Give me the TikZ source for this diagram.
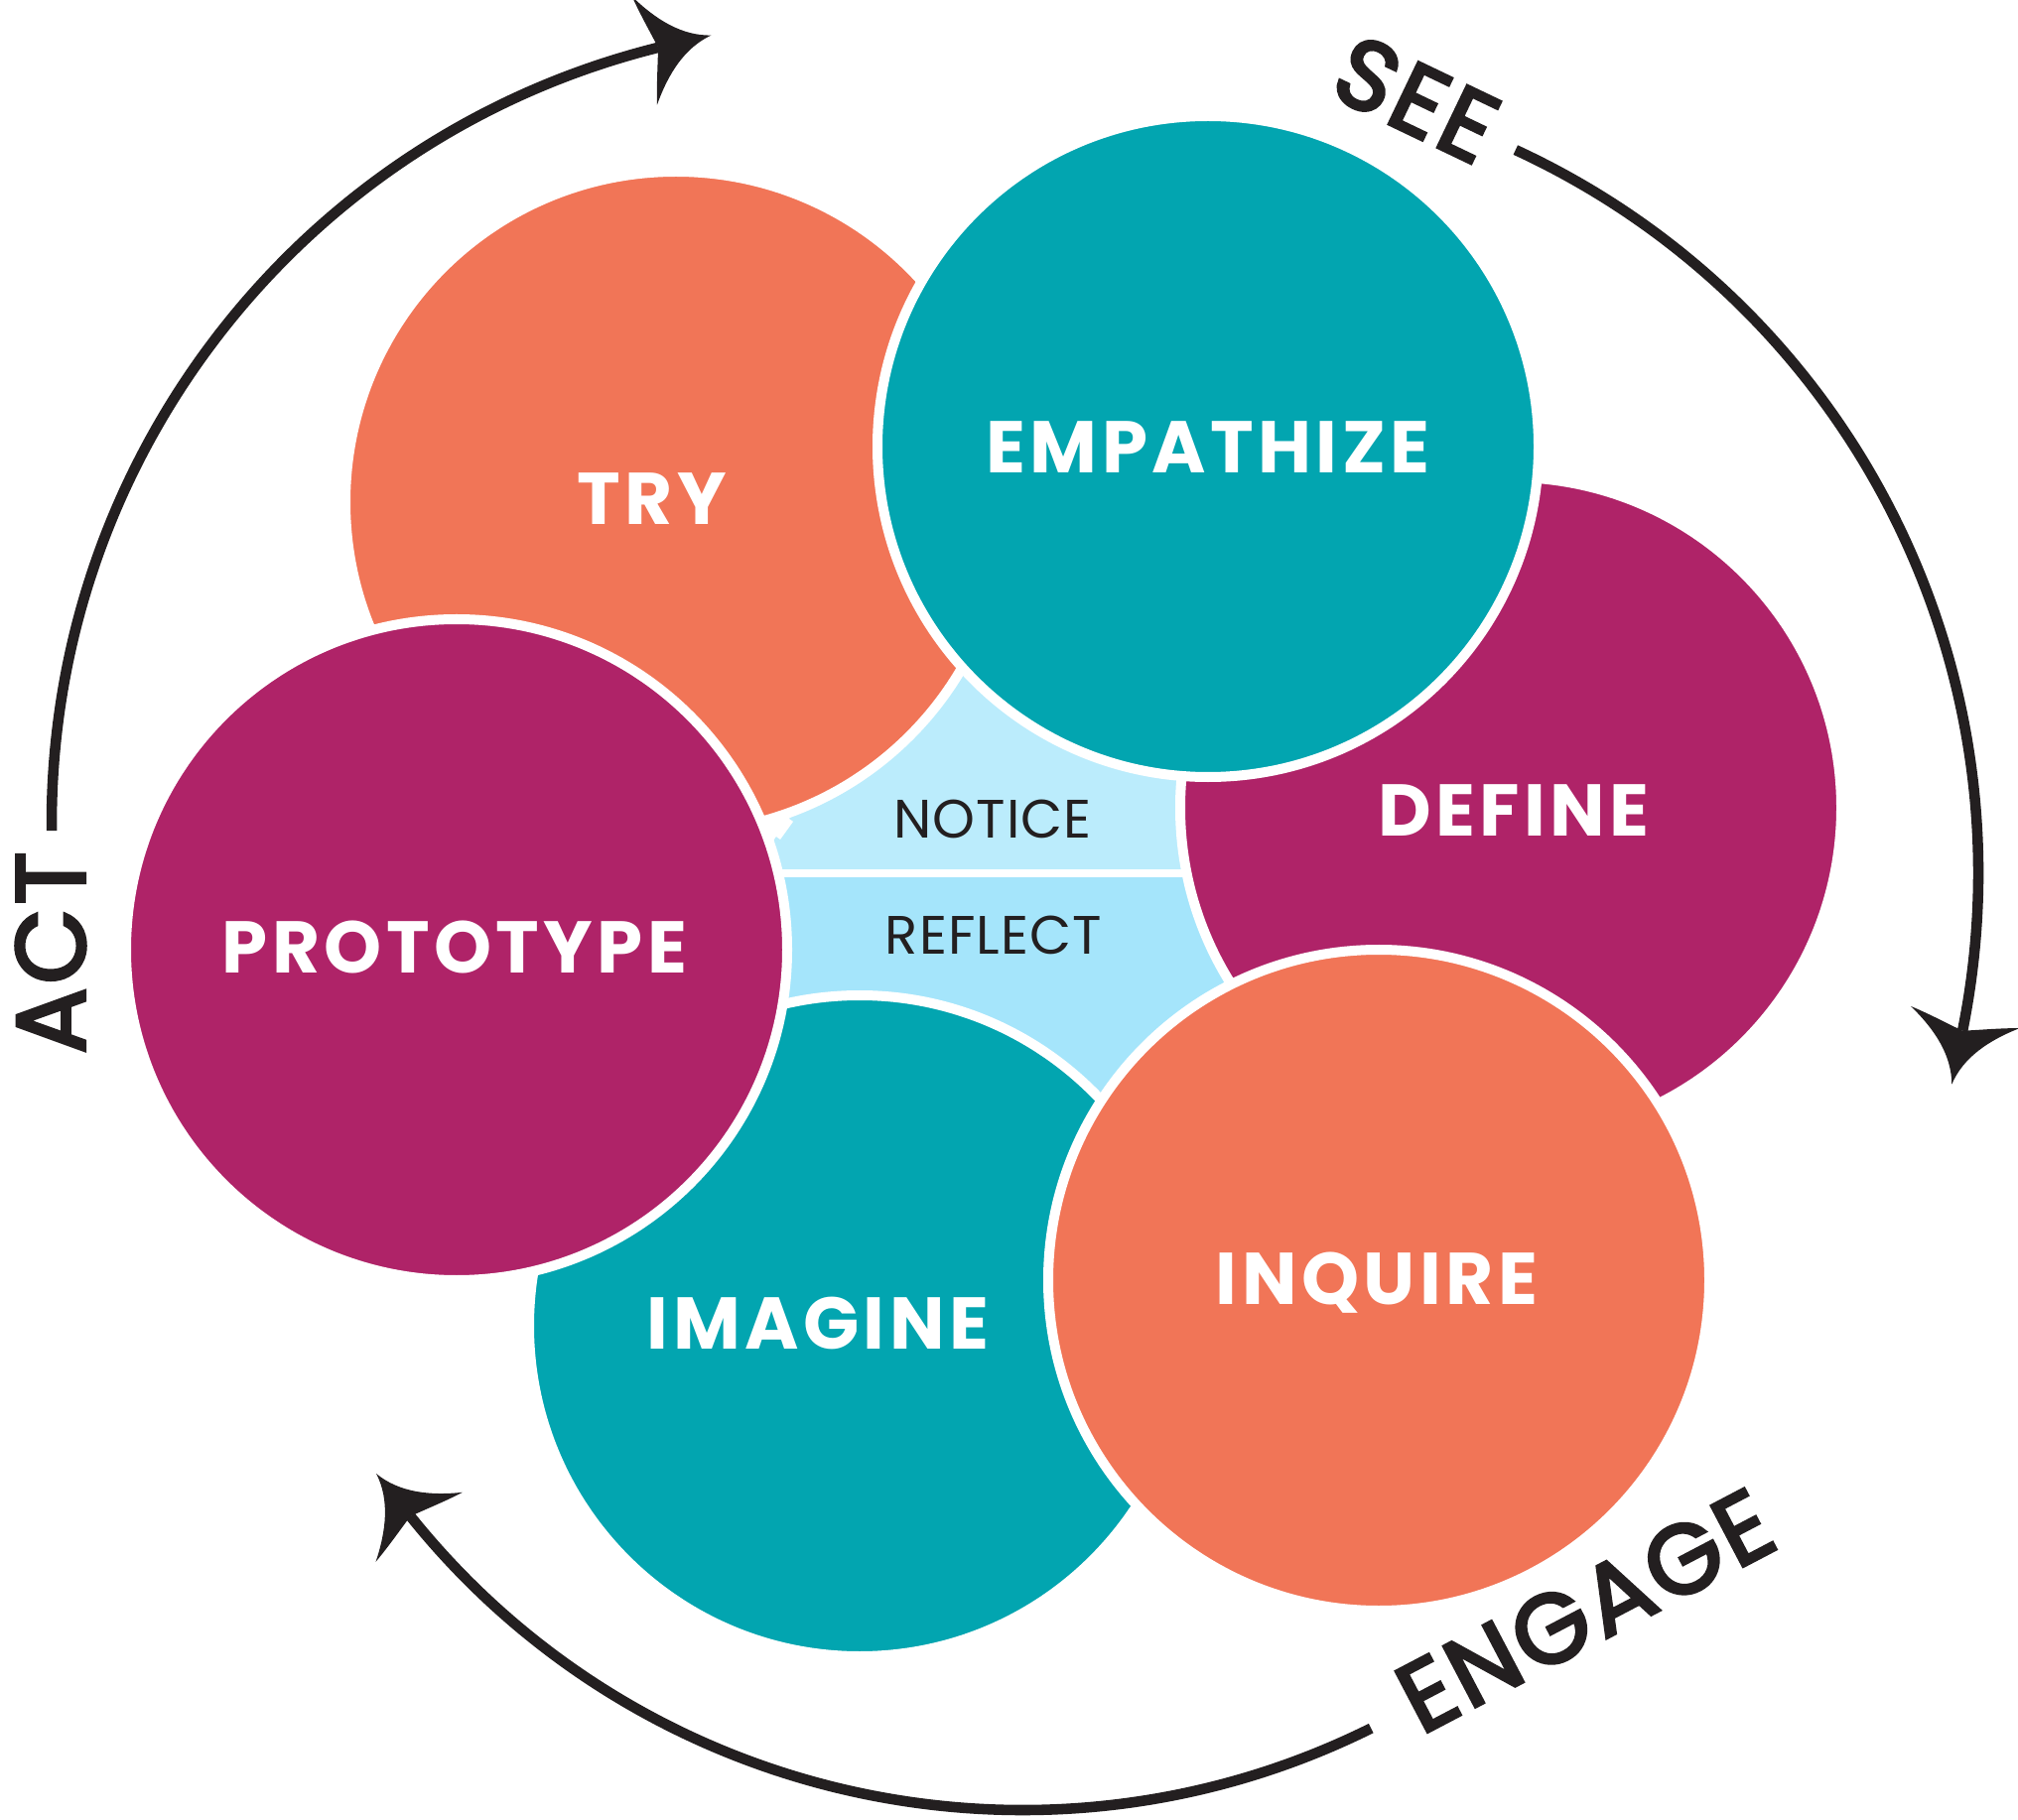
\documentclass[tikz,border=0pt]{standalone}
\usepackage{fontspec}
\setmainfont{Poppins}
\newfontfamily\stagefont{Poppins}[LetterSpace=6]
\newfontfamily\loopfont{Poppins}[FakeBold=3.5,LetterSpace=4]
\newfontfamily\corefont{Poppins}[LetterSpace=2]
\definecolor{coral}{HTML}{F17557}
\definecolor{lagoon}{HTML}{02A5B0}
\definecolor{berry}{HTML}{AF2368}
\definecolor{skytop}{HTML}{BBECFC}
\definecolor{skylow}{HTML}{A5E5FB}
\definecolor{ink}{HTML}{231F20}
\tikzset{
  pics/barb/.style={code={
    \fill[ink] (55,0) .. controls (26,-6) and (4,-28) .. (-14,-56)
      .. controls (-10,-36) and (-4,-16) .. (0,0)
      .. controls (-4,16) and (-10,36) .. (-14,56)
      .. controls (4,28) and (26,6) .. (55,0) -- cycle;
  }}
}
\begin{document}
\begin{tikzpicture}[x=0.01cm,y=-0.01cm,
    disc/.style={draw=white,line width=1mm},
    loop/.style={draw=ink,line width=3pt},
    stagename/.style={anchor=base,inner sep=0pt,text=white,
      font=\stagefont\bfseries\fontsize{21}{21}\selectfont},
    corename/.style={anchor=base,inner sep=0pt,text=ink,
      font=\corefont\fontsize{15.5}{15.5}\selectfont},
    loopname/.style={inner sep=0pt,text=ink,
      font=\loopfont\fontsize{28}{28}\selectfont}]
  \useasboundingbox (0,0) rectangle (2033,1834);

  % circle centres
  \coordinate (tryC) at (681,506);
  \coordinate (empC) at (1217,450);
  \coordinate (defC) at (1522,814);
  \coordinate (inqC) at (1389,1290);
  \coordinate (imaC) at (866,1336);
  \coordinate (proC) at (460,957);

  % centre: notice / reflect
  \fill[skytop] (795,825) -- (850,750) -- (960,640) -- (1150,700)
    -- (1195,790) -- (1205,880) -- (770,880) -- (772,858) -- (782,843)
    -- cycle;
  \fill[skylow] (770,880) -- (1205,880) -- (1243,990) -- (1200,1060)
    -- (1110,1105) -- (900,1040) -- (790,1010) -- cycle;
  \draw[white,line width=1mm] (795,825) -- (782,843);
  \draw[white,line width=2pt] (770,880) -- (1210,880);

  % lower circles
  \path[disc,fill=coral] (tryC) circle[radius=333];
  \path[disc,fill=berry] (defC) circle[radius=333];
  \path[disc,fill=lagoon] (imaC) circle[radius=333];
  % upper circles
  \path[disc,fill=lagoon] (empC) circle[radius=333];
  \path[disc,fill=coral] (inqC) circle[radius=333];
  \path[disc,fill=berry] (proC) circle[radius=333];

  % stage names
  \node[stagename] (tryL) at (657,529) {TRY};
  \node[stagename] (empL) at (1217,477) {EMPATHIZE};
  \node[stagename] (defL) at (1525,843) {DEFINE};
  \node[stagename] (proL) at (458,980) {PROTOTYPE};
  \node[stagename] (imaL) at (824,1359) {IMAGINE};
  \node[stagename] (inqL) at (1387,1314) {INQUIRE};
  \node[corename] (noticeL) at (1000,844) {NOTICE};
  \node[corename] (reflectL) at (1001,961) {REFLECT};

  % outer cycle
  \coordinate (actC) at (858,830);
  \coordinate (seeC) at (1190,880);
  \coordinate (engC) at (1030,1034);
  \draw[loop] (actC) ++(179.5:806)
    arc[start angle=179.5,end angle=256,radius=806] coordinate (actTip);
  \pic[rotate=13] at (actTip) {barb};
  \draw[loop] (seeC) ++(-65.2:803)
    arc[start angle=-65.2,end angle=11.4,radius=803] coordinate (seeTip);
  \pic[rotate=-101.4] at (seeTip) {barb};
  \draw[loop] (engC) ++(63.6:790)
    arc[start angle=63.6,end angle=141.3,radius=790] coordinate (engTip);
  \pic[rotate=128.7] at (engTip) {barb};

  \node[loopname,rotate=90] (actL) at (51,960) {ACT};
  \node[loopname,rotate=-25.6] (seeL) at (1427,100) {SEE};
  \node[loopname,rotate=27.7] (engL) at (1597,1623) {ENGAGE};
\end{tikzpicture}
\end{document}
